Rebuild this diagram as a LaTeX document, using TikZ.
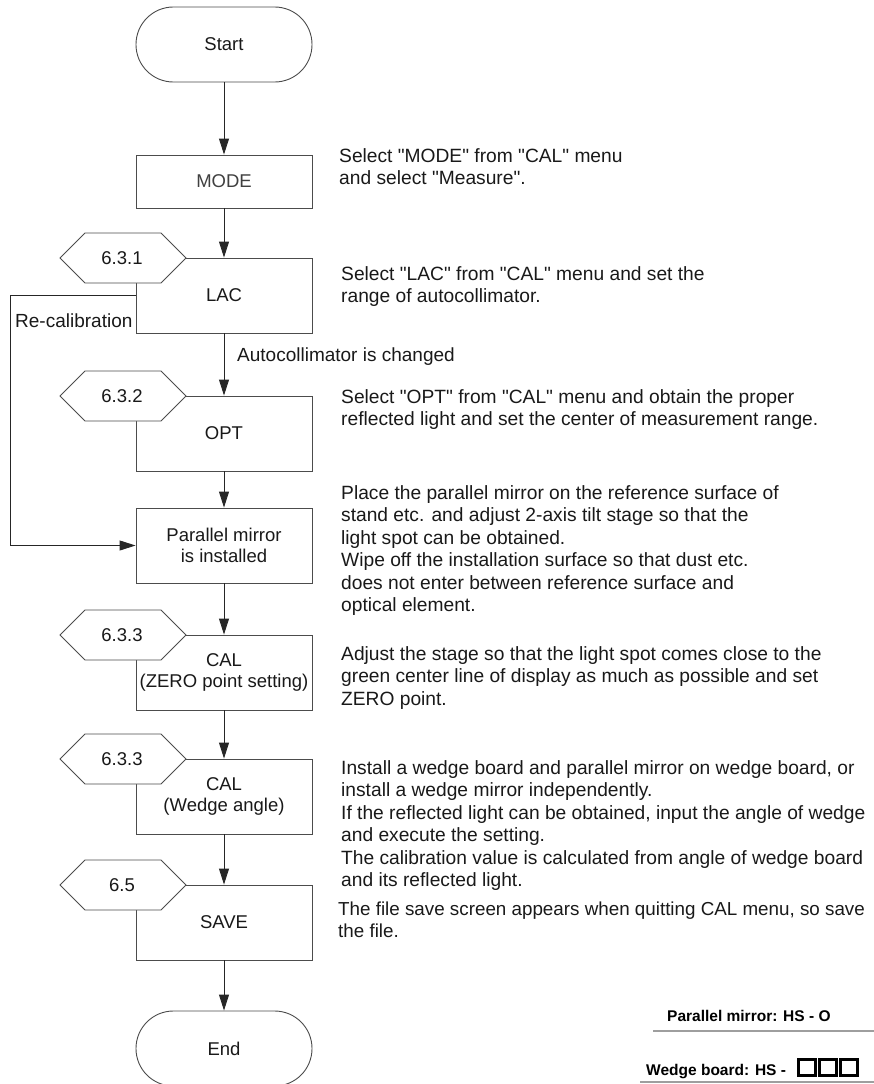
\documentclass[tikz,border=0pt]{standalone}
\usepackage{fontspec}
\setmainfont{Liberation Sans}[Ligatures=TeXOff]
\usetikzlibrary{arrows.meta}
\begin{document}
\begin{tikzpicture}[x=1pt,y=-1pt,
  line/.style={draw=black!85, line width=0.9pt},
  flow/.style={line, -{Triangle[length=16pt,width=10pt]}},
  stepbox/.style={draw=black!70, line width=0.9pt, fill=white, minimum width=176pt,
    minimum height=75pt, inner sep=0pt, align=center, text=black!90,
    font=\fontsize{18.5}{21}\selectfont},
  term/.style={stepbox, rounded corners=37.4pt},
  hexpath/.style={draw=black!70, line width=0.9pt, fill=white},
  tagtext/.style={font=\fontsize{18.5}{21}\selectfont, inner sep=0pt, text=black!90},
  note/.style={anchor=north west, inner sep=0pt, align=left, text=black!90,
    font=\fontsize{19.2}{22.5}\selectfont},
  pixlabel/.style={anchor=base west, inner sep=0pt, font=\fontsize{15.5}{18}\selectfont\bfseries},
  rule/.style={draw=black!38, line width=2.8pt},
]
\useasboundingbox (0,0) rectangle (874,1084);

% hexagonal section tag placed at the top-left corner of a step box
\newcommand\sectiontag[3]{%
  \path[hexpath] (60,#2) -- (85,#2-25) -- (161,#2-25) -- (186,#2)
    -- (161,#2+25) -- (85,#2+25) -- cycle;
  \node[tagtext] (#1) at (122,#2) {#3};}

% process steps
\node[term]    (start) at (224,44.5)  {Start};
\node[stepbox, minimum height=53pt, text=black!75] (mode) at (224,181.5) {MODE};
\node[stepbox] (lac)   at (224,295.5) {LAC};
\node[stepbox] (opt)   at (224,433.5) {OPT};
\node[stepbox] (par)   at (224,545.5) {Parallel mirror\\is installed};
\node[stepbox] (calz)  at (224,672.5) {CAL\\(ZERO point setting)};
\node[stepbox] (calw)  at (224,796.5) {CAL\\(Wedge angle)};
\node[stepbox] (save)  at (224,922.5) {SAVE};
\node[term]    (end)   at (224,1048.5) {End};

% section references
\sectiontag{t1}{258}{6.3.1}
\sectiontag{t2}{396}{6.3.2}
\sectiontag{t3}{635}{6.3.3}
\sectiontag{t4}{759}{6.3.3}
\sectiontag{t5}{885}{6.5}

% main flow
\draw[flow] (start) -- (mode);
\draw[flow] (mode) -- (lac);
\draw[flow] (lac) -- (opt);
\draw[flow] (opt) -- (par);
\draw[flow] (par) -- (calz);
\draw[flow] (calz) -- (calw);
\draw[flow] (calw) -- (save);
\draw[flow] (save) -- (end);

\node[anchor=base west, inner sep=0pt, text=black!90, font=\fontsize{19}{21}\selectfont]
  (chg) at (237,361) {Autocollimator is changed};

% re-calibration loop
\coordinate (rc) at (136,295);
\draw[flow] (rc) -- ++(-126,0) |- (par.west);
\node[anchor=base west, inner sep=0pt, text=black!90, font=\fontsize{19}{21}\selectfont]
  (rcl) at (15,327) {Re-calibration};

% explanations
\node[note] (n1) at (339,162-15.75) {\strut Select "MODE" from "CAL" menu\\and select "Measure".};
\node[note] (n2) at (341,280-15.75) {\strut Select "LAC" from "CAL" menu and set the\\range of autocollimator.};
\node[note] (n3) at (341,403-15.75) {\strut Select "OPT" from "CAL" menu and obtain the proper\\reflected light and set the center of measurement range.};
\node[note] (n4) at (341,499-15.75) {\strut Place the parallel mirror on the reference surface of\\stand etc. and adjust 2-axis tilt stage so that the\\light spot can be obtained.\\Wipe off the installation surface so that dust etc.\\does not enter between reference surface and\\optical element.};
\node[note] (n5) at (341,660-15.75) {\strut Adjust the stage so that the light spot comes close to the\\green center line of display as much as possible and set\\ZERO point.};
\node[note] (n6) at (341,774-15.75) {\strut Install a wedge board and parallel mirror on wedge board, or\\install a wedge mirror independently.\\If the reflected light can be obtained, input the angle of wedge\\and execute the setting.\\The calibration value is calculated from angle of wedge board\\and its reflected light.};
\node[note, font=\fontsize{18.8}{22.5}\selectfont] (n7) at (338,915-15.75) {\strut The file save screen appears when quitting CAL menu, so save\\the file.};

% screen labels
\node[pixlabel] (pm) at (667,1021) {Parallel mirror: HS - O};
\draw[rule] (653,1031) -- (874,1031);
\node[pixlabel] (wb) at (646,1075) {Wedge board: HS -};
\foreach \bx in {798,819,840}
  \draw[line width=3pt, black] (\bx,1059.5) rectangle (\bx+17,1075.5);
\draw[rule] (640,1082) -- (874,1082);
\end{tikzpicture}
\end{document}
